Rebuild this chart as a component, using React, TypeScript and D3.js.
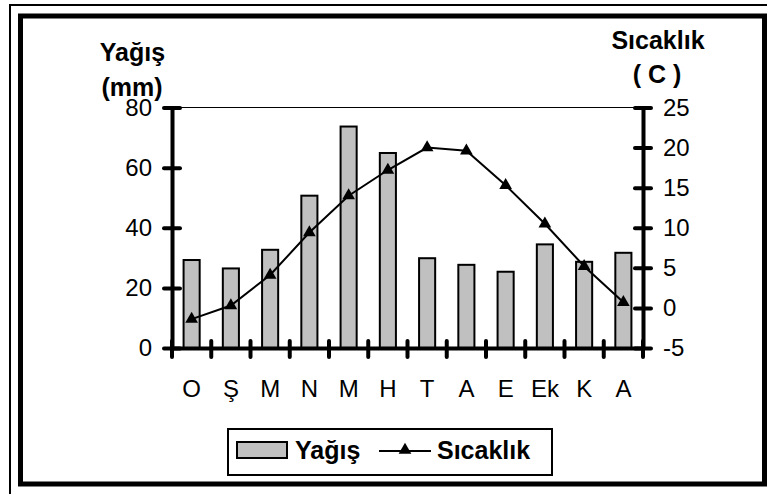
import * as d3 from 'd3';
import { useEffect, useRef } from 'react';

// months (Turkish initials)
const months = ['O', 'Ş', 'M', 'N', 'M', 'H', 'T', 'A', 'E', 'Ek', 'K', 'A'];
// precipitation, mm
const rain = [29.6, 26.8, 33, 51, 74, 65.2, 30.2, 28, 25.7, 34.8, 29, 32];
// temperature, C
const temp = [-1.4, 0.3, 4.1, 9.4, 14, 17.2, 20, 19.6, 15.3, 10.5, 5.2, 0.7];
const rainTicks = [0, 20, 40, 60, 80];
const tempTicks = [-5, 0, 5, 10, 15, 20, 25];

const FONT = '"Liberation Sans", Arial, sans-serif';

function App() {
    const svgRef = useRef<SVGSVGElement>(null);

    useEffect(() => {
        const W = 767;
        const H = 494;
        const left = 172, right = 643, top = 107.5, bottom = 348;

        const svg = d3.select(svgRef.current)
            .attr('width', W)
            .attr('height', H);
        svg.selectAll('*').remove();

        svg.append('rect').attr('width', W).attr('height', H).attr('fill', '#fff');

        // frames
        svg.append('path')
            .attr('d', `M10,${H}V5H${W}`)
            .attr('fill', 'none')
            .attr('stroke', '#000')
            .attr('stroke-width', 2);
        svg.append('rect')
            .attr('x', 20.5).attr('y', 16)
            .attr('width', 744).attr('height', 468)
            .attr('fill', 'none')
            .attr('stroke', '#000')
            .attr('stroke-width', 5);

        const idx = months.map((m, i) => i);
        const x = d3.scaleBand<number>()
            .domain(idx)
            .range([left, right])
            .padding(0);
        const yRain = d3.scaleLinear().domain([0, 80]).range([bottom, top]);
        const yTemp = d3.scaleLinear().domain([-5, 25]).range([bottom, top]);

        // top grid line
        svg.append('line')
            .attr('x1', left).attr('x2', right)
            .attr('y1', yRain(80)).attr('y2', yRain(80))
            .attr('stroke', '#000')
            .attr('stroke-width', 1);

        // bars
        const bw = x.bandwidth() * 0.41;
        svg.selectAll('.bar')
            .data(rain)
            .join('rect')
                .attr('class', 'bar')
                .attr('x', (v, i) => x(i)! + x.bandwidth() / 2 - bw / 2)
                .attr('y', v => yRain(v) + 1)
                .attr('width', bw)
                .attr('height', v => bottom - yRain(v) - 1)
                .attr('fill', '#c0c0c0')
                .attr('stroke', '#000')
                .attr('stroke-width', 2);

        const styleAxis = (g, fontSize) => {
            g.attr('font-family', FONT).attr('font-size', fontSize);
            g.select('.domain').attr('stroke-width', 4).attr('stroke', '#000');
            g.selectAll('.tick text').attr('fill', '#000');
        };

        // left axis
        svg.append('g')
            .attr('transform', `translate(${left},0)`)
            .call(d3.axisLeft(yRain).tickValues(rainTicks).tickFormat(d => String(d))
                .tickSize(8).tickPadding(12).tickSizeOuter(0))
            .call(g => styleAxis(g, 24))
            .call(g => g.selectAll('.tick line')
                .attr('x1', 8).attr('x2', -8)
                .attr('stroke-width', 4).attr('stroke-linecap', 'round'));

        // right axis
        svg.append('g')
            .attr('transform', `translate(${right},0)`)
            .call(d3.axisRight(yTemp).tickValues(tempTicks).tickFormat(d => String(d))
                .tickSize(8).tickPadding(12).tickSizeOuter(0))
            .call(g => styleAxis(g, 24))
            .call(g => g.selectAll('.tick line')
                .attr('x1', -8).attr('x2', 8)
                .attr('stroke-width', 4).attr('stroke-linecap', 'round'));

        // bottom axis (labels at band centres)
        svg.append('g')
            .attr('transform', `translate(0,${bottom})`)
            .call(d3.axisBottom(x).tickFormat(i => months[i]).tickSize(0).tickPadding(32).tickSizeOuter(0))
            .call(g => styleAxis(g, 24));

        // boundary ticks on x axis
        const bounds = idx.map(i => x(i)!).concat([right]);
        svg.selectAll('.xtick')
            .data(bounds)
            .join('line')
                .attr('class', 'xtick')
                .attr('x1', d => d).attr('x2', d => d)
                .attr('y1', bottom - 7).attr('y2', bottom + 9)
                .attr('stroke', '#000')
                .attr('stroke-width', 4)
                .attr('stroke-linecap', 'round');

        // temperature line
        const cx = (i: number) => x(i)! + x.bandwidth() / 2;
        const line = d3.line<number>()
            .x((d, i) => cx(i))
            .y(d => yTemp(d));
        svg.append('path')
            .datum(temp)
            .attr('d', line)
            .attr('fill', 'none')
            .attr('stroke', '#000')
            .attr('stroke-width', 2);

        const tri = d3.symbol().type(d3.symbolTriangle).size(70);
        svg.selectAll('.pt')
            .data(temp)
            .join('path')
                .attr('class', 'pt')
                .attr('d', tri)
                .attr('transform', (d, i) => `translate(${cx(i)},${yTemp(d)})`)
                .attr('fill', '#000');

        // axis titles
        const title = (txt, tx, ty) => svg.append('text')
            .attr('x', tx).attr('y', ty)
            .attr('text-anchor', 'middle')
            .attr('font-family', FONT)
            .attr('font-weight', 'bold')
            .attr('font-size', 25)
            .text(txt);
        title('Yağış', 132.5, 61);
        title('(mm)', 132, 96);
        title('Sıcaklık', 658, 49);
        title('( C )', 657, 83);

        // legend
        const lg = svg.append('g');
        lg.append('rect')
            .attr('x', 228).attr('y', 429)
            .attr('width', 324).attr('height', 46)
            .attr('fill', '#fff')
            .attr('stroke', '#000')
            .attr('stroke-width', 2);
        lg.append('rect')
            .attr('x', 237).attr('y', 442)
            .attr('width', 50).attr('height', 16)
            .attr('fill', '#c0c0c0')
            .attr('stroke', '#000')
            .attr('stroke-width', 2);
        lg.append('text')
            .attr('x', 295).attr('y', 459)
            .attr('font-family', FONT).attr('font-weight', 'bold').attr('font-size', 25)
            .text('Yağış');
        lg.append('line')
            .attr('x1', 379).attr('x2', 431)
            .attr('y1', 451).attr('y2', 451)
            .attr('stroke', '#000').attr('stroke-width', 2);
        lg.append('path')
            .attr('d', tri)
            .attr('transform', 'translate(405,450)')
            .attr('fill', '#000');
        lg.append('text')
            .attr('x', 437).attr('y', 459)
            .attr('font-family', FONT).attr('font-weight', 'bold').attr('font-size', 25)
            .text('Sıcaklık');
    }, []);

    return (
        <div>
            <svg ref={svgRef} style={{ position: 'absolute', left: 0, top: 0, display: 'block' }}></svg>
        </div>
    );
}

export default App;
